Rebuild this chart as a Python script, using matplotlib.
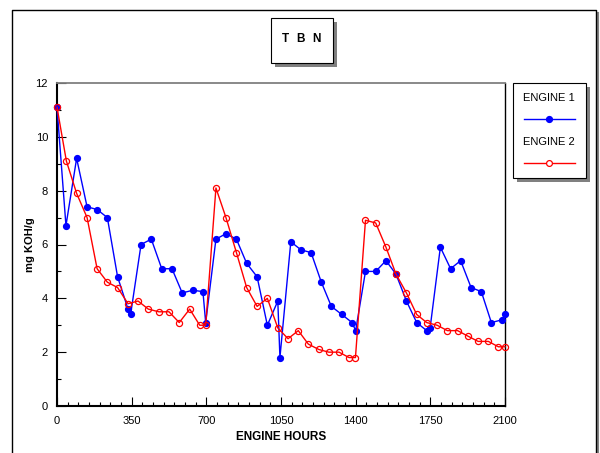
import matplotlib
matplotlib.use('Agg')
import matplotlib.pyplot as plt
from matplotlib.patches import Rectangle
from matplotlib.lines import Line2D
from matplotlib.ticker import MultipleLocator

plt.rcParams['font.family'] = ['Liberation Sans', 'DejaVu Sans']

# ---- data ----
hours_1 = [0, 42, 92, 141, 188, 236, 284, 333, 345, 394, 442, 491, 539, 587, 636, 684, 697,
           745, 792, 841, 889, 938, 986, 1035, 1045, 1096, 1144, 1191, 1239, 1286, 1335, 1383,
           1400, 1446, 1494, 1542, 1589, 1638, 1686, 1733, 1749, 1797, 1845, 1892, 1941, 1989,
           2036, 2085, 2100]
tbn_1 = [11.1, 6.7, 9.2, 7.4, 7.3, 7.0, 4.8, 3.6, 3.4, 6.0, 6.2, 5.1, 5.1, 4.2, 4.3, 4.25, 3.1,
         6.2, 6.4, 6.2, 5.3, 4.8, 3.0, 3.9, 1.8, 6.1, 5.8, 5.7, 4.6, 3.7, 3.4, 3.1,
         2.8, 5.0, 5.0, 5.4, 4.9, 3.9, 3.1, 2.8, 2.9, 5.9, 5.1, 5.4, 4.4, 4.25,
         3.1, 3.2, 3.4]

hours_2 = [0, 44, 92, 141, 188, 236, 284, 333, 380, 428, 477, 525, 573, 622, 669, 697,
           745, 792, 841, 889, 938, 986, 1035, 1083, 1131, 1178, 1227, 1274, 1322, 1369, 1399,
           1446, 1494, 1542, 1589, 1638, 1686, 1733, 1782, 1830, 1878, 1925, 1974, 2022, 2069, 2100]
tbn_2 = [11.1, 9.1, 7.9, 7.0, 5.1, 4.6, 4.4, 3.8, 3.9, 3.6, 3.5, 3.5, 3.1, 3.6, 3.0, 3.0,
         8.1, 7.0, 5.7, 4.4, 3.7, 4.0, 2.9, 2.5, 2.8, 2.3, 2.1, 2.0, 2.0, 1.8, 1.8,
         6.9, 6.8, 5.9, 4.9, 4.2, 3.4, 3.1, 3.0, 2.8, 2.8, 2.6, 2.4, 2.4, 2.2, 2.2]

x_ticks = [0, 350, 700, 1050, 1400, 1750, 2100]
y_ticks = [0, 2, 4, 6, 8, 10, 12]

W, H = 600, 453
fig = plt.figure(figsize=(6, 4.53), dpi=100)

def fx(x):
    return x / W

def fy(y):
    return 1 - y / H

# axes placed in pixel terms
ax = fig.add_axes([fx(57), fy(406), fx(505) - fx(57), fy(83) - fy(406)])

ax.plot(hours_1, tbn_1, color='#0000ff', lw=1, marker='o', ms=4.2,
        mfc='#0000ff', mec='#0000ff', clip_on=False, zorder=3)
# engine 2 markers are hollow, so blue shows through where they overlap
ax.plot(hours_2, tbn_2, color='#ff0000', lw=1, marker='o', ms=4.4,
        mfc='none', mec='#ff0000', mew=0.9, clip_on=False, zorder=4)

ax.set_xlim(0, 2100)
ax.set_ylim(0, 12)
ax.set_xticks(x_ticks)
ax.set_yticks(y_ticks)
ax.xaxis.set_minor_locator(MultipleLocator(50))
ax.yaxis.set_minor_locator(MultipleLocator(1))
ax.tick_params(which='major', direction='in', length=6.5, width=0.8, labelsize=8)
ax.tick_params(which='minor', direction='in', length=3.2, width=0.8)
ax.tick_params(axis='x', pad=7.5)
ax.tick_params(axis='y', pad=6.5)

ax.spines['left'].set_linewidth(1.5)
ax.spines['bottom'].set_linewidth(1.5)
ax.spines['top'].set_color('#808080')
ax.spines['top'].set_linewidth(1.3)
ax.spines['right'].set_linewidth(1)

fig.text(fx(281), fy(437), 'ENGINE HOURS', fontsize=8.5, fontweight='bold',
         ha='center', va='center')
fig.text(fx(30), fy(245), 'mg KOH/g', fontsize=8, fontweight='bold',
         rotation=90, ha='center', va='center')

# outer frame with shadow on the right
fig.add_artist(Line2D([fx(598), fx(598)], [fy(13), fy(453)], color='#808080', lw=1.5,
                      transform=fig.transFigure))
fig.add_artist(Line2D([fx(11.5), fx(11.5), fx(596), fx(596)], [fy(453), fy(9.5), fy(9.5), fy(453)],
                      color='black', lw=1, transform=fig.transFigure))

def shadow_box(x0, y0, x1, y1):
    fig.add_artist(Rectangle((fx(x0 + 4), fy(y1 + 4)), fx(x1 - x0), (y1 - y0) / H,
                             transform=fig.transFigure, facecolor='#808080', edgecolor='none'))
    fig.add_artist(Rectangle((fx(x0), fy(y1)), fx(x1 - x0), (y1 - y0) / H,
                             transform=fig.transFigure, facecolor='white', edgecolor='black', lw=0.8))

# title box
shadow_box(271, 18, 333, 63)
for ch, cx in zip('TBN', [285.5, 300.8, 316.3]):
    fig.text(fx(cx), fy(39), ch, fontsize=8.5, fontweight='bold', ha='center', va='center')

# legend box
shadow_box(513, 83, 586, 178)
fig.text(fx(549), fy(98), 'ENGINE 1', fontsize=8, ha='center', va='center')
fig.add_artist(Line2D([fx(524), fx(575)], [fy(119), fy(119)], color='#0000ff', lw=1,
                      transform=fig.transFigure))
fig.add_artist(Line2D([fx(549)], [fy(119)], color='#0000ff', marker='o', ms=4.2,
                      transform=fig.transFigure))
fig.text(fx(549), fy(142), 'ENGINE 2', fontsize=8, ha='center', va='center')
fig.add_artist(Line2D([fx(524), fx(575)], [fy(163), fy(163)], color='#ff0000', lw=1,
                      transform=fig.transFigure))
fig.add_artist(Line2D([fx(549)], [fy(163)], color='#ff0000', marker='o', ms=4.2,
                      mfc='white', mew=0.9, transform=fig.transFigure))

fig.savefig('out.png', dpi=100)
